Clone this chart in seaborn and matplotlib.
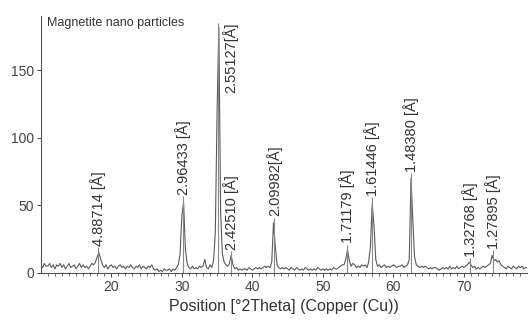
import matplotlib
matplotlib.use('Agg')

import numpy as np
import pandas as pd
import matplotlib.pyplot as plt
import seaborn as sns

# XRD pattern, values (step 0.25 deg, 10 -> 79)
baslangic, adim = 10.0, 0.25
siddet = [
    6, 4, 7, 5,   5, 7, 4, 6,   3, 6, 5, 7,   4, 6, 3, 5,   7, 4, 5, 6,     # 10-14
    3, 5, 7, 4,   6, 4, 5, 3,   5, 7, 6, 8,   12, 15, 10, 6,  4, 6, 3, 5,  # 15-19
    6, 4, 5, 3,   5, 6, 4, 5,   3, 5, 4, 6,   4, 3, 5, 4,   6, 3, 5, 4,     # 20-24
    3, 5, 4, 6,   3, 2, 3, 1,   2, 1, 3, 2,   2, 3, 1, 3,   2, 4, 6, 14,    # 25-29
    42, 52, 18, 7,  4, 3, 5, 3,  4, 3, 5, 4,  5, 10, 4, 3,  6, 4, 9, 30,    # 30-34
    120, 182, 45, 14,  8, 6, 5, 7,  13, 6, 3, 4,  2, 3, 2, 3,  3, 2, 4, 3,  # 35-39
    2, 3, 4, 3,   4, 3, 4, 5,   4, 5, 4, 8,   37, 20, 6, 4,  3, 4, 3, 4,    # 40-44
    3, 2, 4, 3,   2, 4, 3, 2,   3, 2, 4, 3,   2, 3, 2, 3,   2, 4, 3, 2,     # 45-49
    3, 2, 3, 2,   3, 2, 4, 3,   3, 4, 5, 6,   6, 10, 17, 9,  5, 7, 6, 4,    # 50-54
    5, 4, 6, 5,   6, 4, 8, 20,  51, 35, 10, 5,  6, 4, 5, 6,  4, 5, 4, 5,    # 55-59
    6, 5, 4, 5,   5, 6, 4, 5,   6, 10, 70, 40,  12, 6, 5, 4,  5, 4, 5, 4,   # 60-64
    3, 4, 3, 4,   4, 3, 2, 3,   4, 3, 4, 3,   5, 3, 4, 3,   5, 3, 4, 5,     # 65-69
    4, 5, 6, 8,   6, 4, 5, 3,   4, 3, 4, 5,   4, 5, 6, 7,   13, 9, 10, 8,   # 70-74
    9, 6, 5, 4,   3, 5, 4, 3,   5, 4, 3, 5,   4, 5, 3, 4,   4,              # 75-79
]
iki_teta = baslangic + adim * np.arange(len(siddet))
df = pd.DataFrame({"2theta": iki_teta, "I": siddet})

# Peak markers
pik_konum = [18.14, 30.12, 35.15, 37.04, 43.04, 53.49, 57.00, 62.56, 70.93, 74.07]
pik_yukseklik = [15, 53, 185, 12, 37, 17, 52, 70, 7, 13]
pik_etiket = ["4.88714 [Å]", "2.96433 [Å]", "2.55127[Å]", "2.42510 [Å]", "2.09982[Å]",
              "1.71179 [Å]", "1.61446 [Å]", "1.48380 [Å]", "1.32768 [Å]", "1.27895 [Å]"]

sns.set_style("ticks")
plt.rcParams['font.family'] = ['Liberation Sans', 'DejaVu Sans']

fig = plt.figure(figsize=(5.3, 3.23), dpi=100)
ax = fig.add_axes([0.077, 0.155, 0.918, 0.795])

sns.lineplot(data=df, x="2theta", y="I", color="#5a5a5a", linewidth=0.8, ax=ax)

for x, h, lbl in zip(pik_konum, pik_yukseklik, pik_etiket):
    if h > 150:
        ax.vlines(x, 0, h, color="#888888", linewidth=0.8)
        ax.text(x + 1.7, h, lbl, rotation=90, ha="center", va="top", fontsize=10.5, color="#333333")
    else:
        ax.vlines(x, 0, h + 4, color="#888888", linewidth=0.8)
        ax.text(x, h + 5, lbl, rotation=90, ha="center", va="bottom", fontsize=10.5, color="#333333")

ax.set_xlim(10, 79)
ax.set_ylim(0, 190)
ax.set_xticks([20, 30, 40, 50, 60, 70])
ax.set_xticks(np.arange(11, 79, 1), minor=True)
ax.set_yticks([0, 50, 100, 150])
ax.tick_params(axis="both", labelsize=10, colors="#444444", length=3, width=0.7, pad=2)
ax.tick_params(axis="x", which="minor", length=2, width=0.6, colors="#555555")
ax.set_xlabel("Position [°2Theta] (Copper (Cu))", fontsize=11.5, color="#333333", labelpad=4)
ax.set_ylabel("")
ax.text(0.012, 0.995, "Magnetite nano particles", transform=ax.transAxes, ha="left", va="top",
        fontsize=9, color="#333333")

sns.despine(ax=ax)
for s in ["left", "bottom"]:
    ax.spines[s].set_color("#555555")
    ax.spines[s].set_linewidth(0.8)

plt.savefig("out.png", dpi=100)
plt.close()
